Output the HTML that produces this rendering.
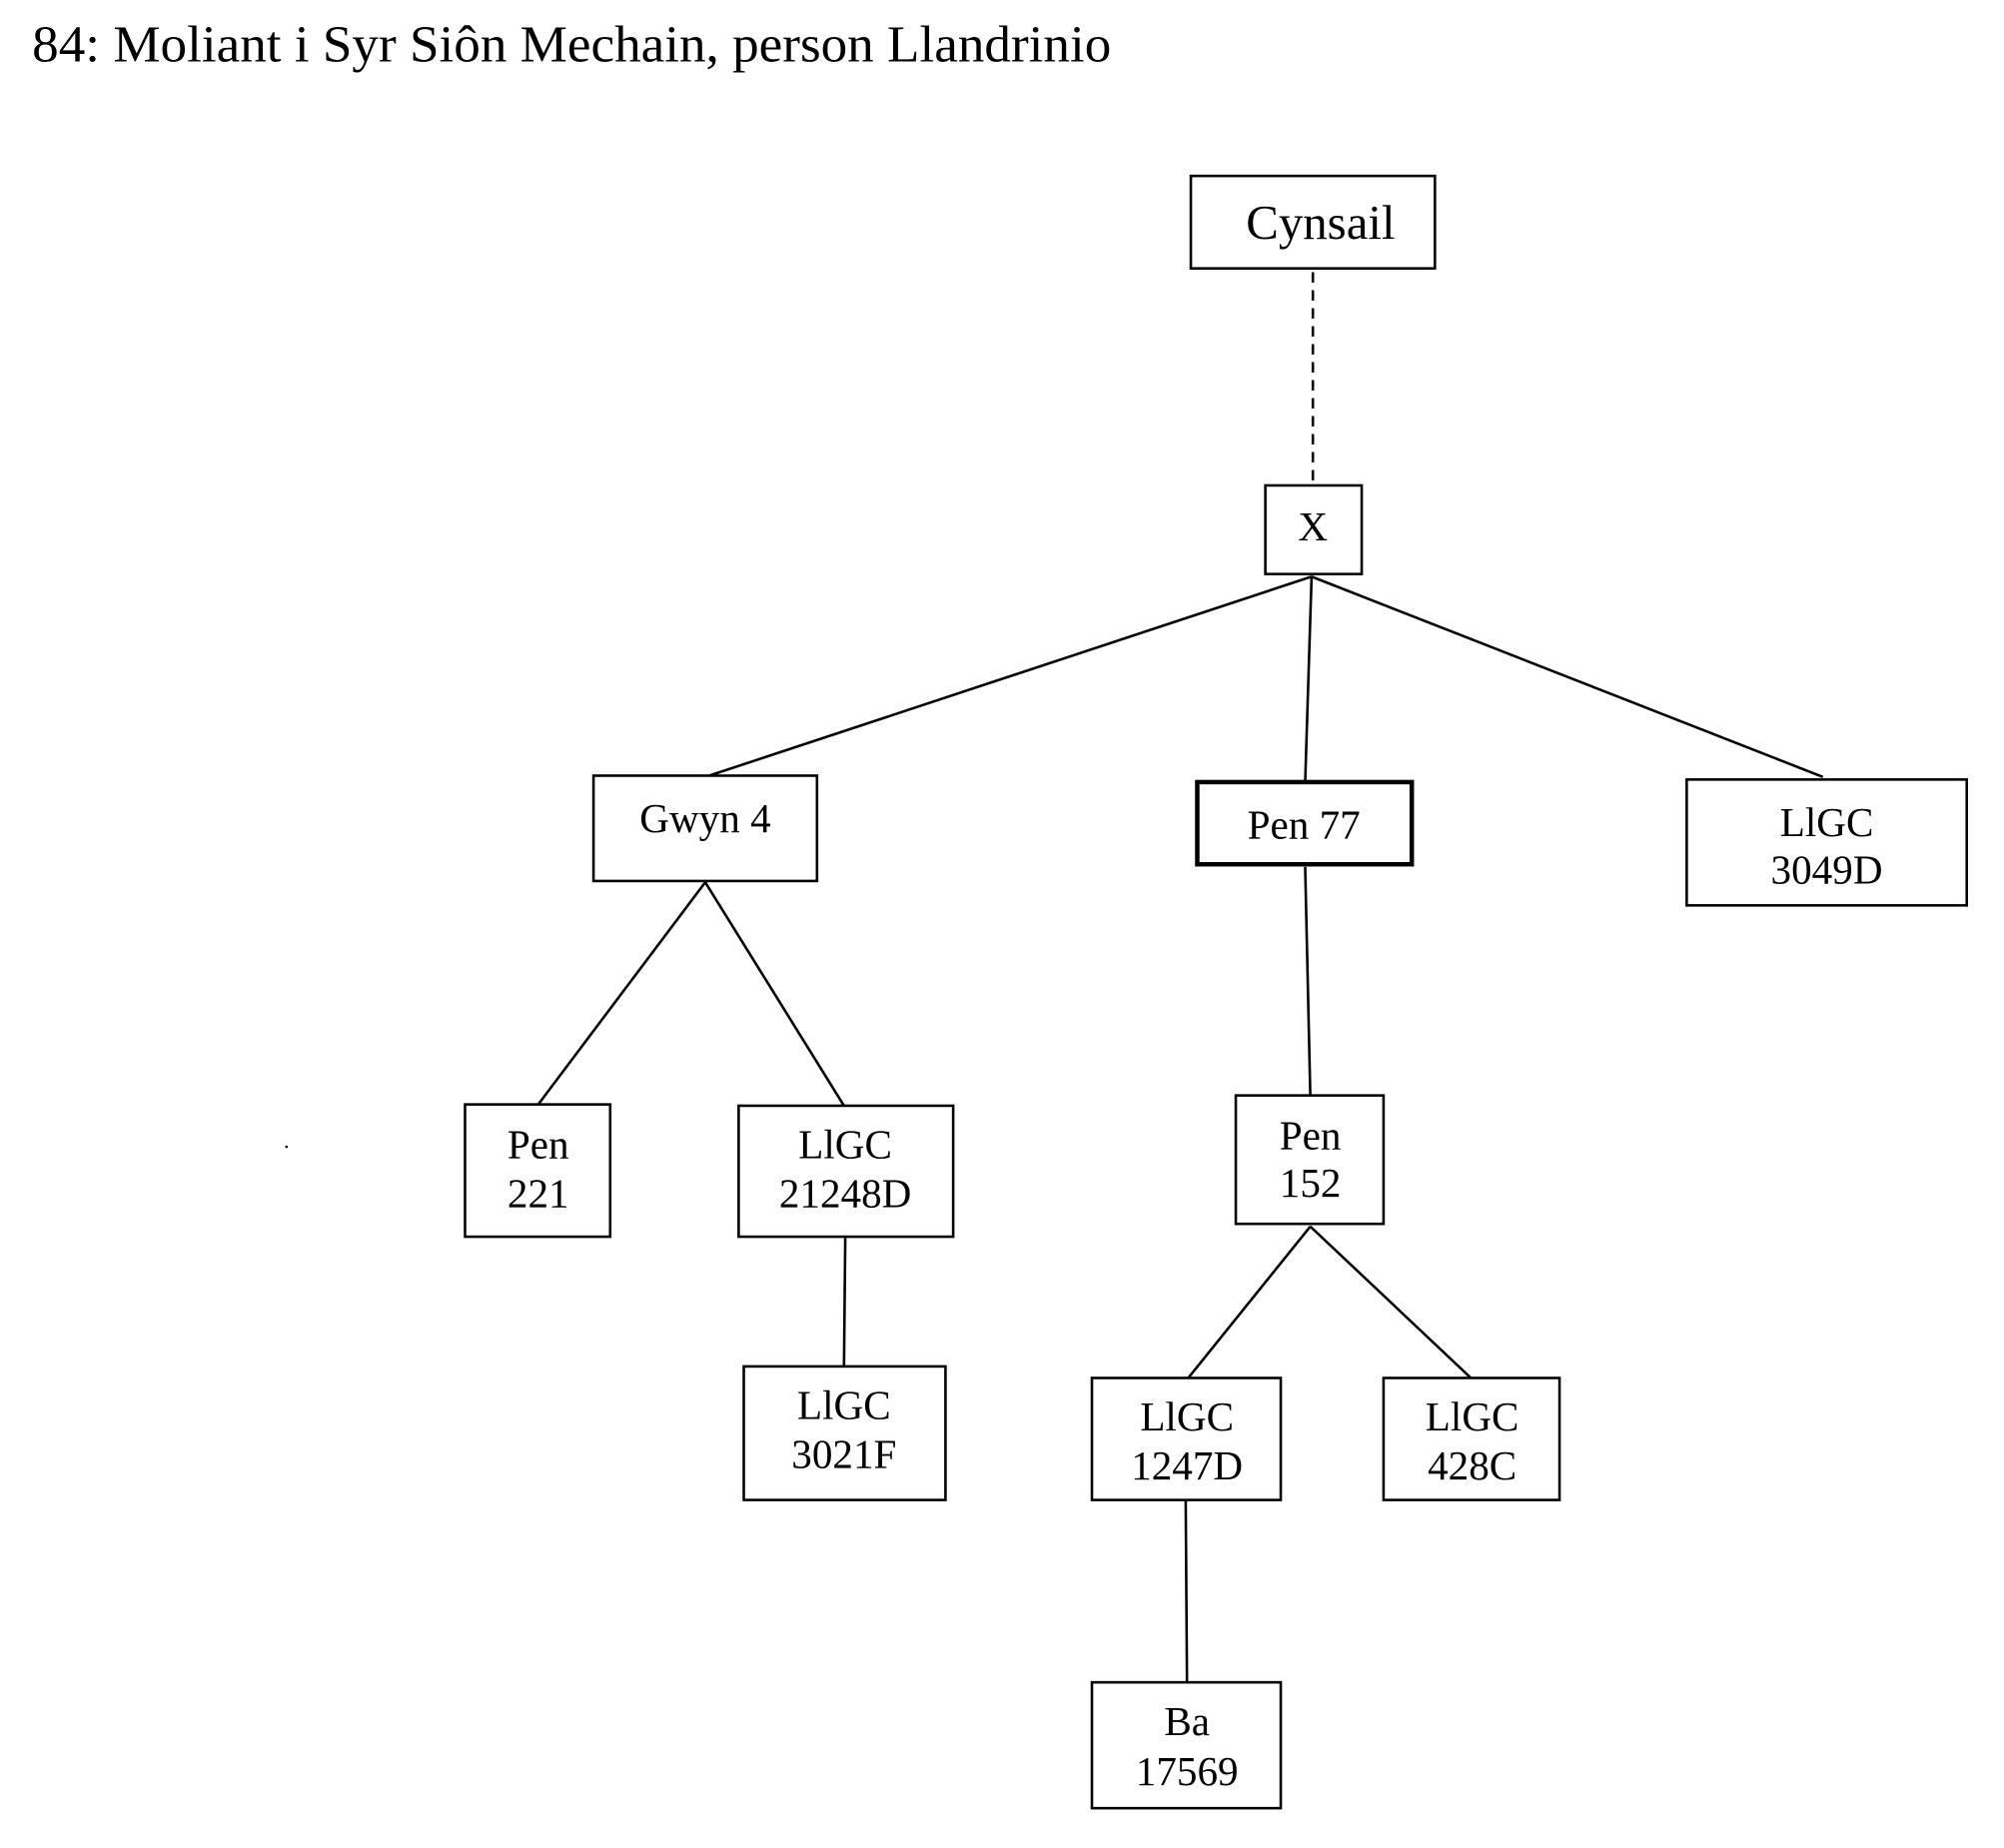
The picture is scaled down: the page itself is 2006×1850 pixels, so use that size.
<!DOCTYPE html>
<html><head><meta charset="utf-8"><style>html,body{margin:0;padding:0;background:#fff}svg{display:block}</style></head>
<body>
<svg width="2006" height="1850" viewBox="0 0 1560 1439" preserveAspectRatio="none" xmlns="http://www.w3.org/2000/svg">
<g font-family="Liberation Serif, serif" fill="#000">
<text x="25" y="48" font-size="40" textLength="840" lengthAdjust="spacingAndGlyphs">84: Moliant i Syr Siôn Mechain, person Llandrinio</text>
</g>
<g stroke="#000" stroke-width="2" fill="none">
<line x1="1022" y1="212" x2="1022" y2="378" stroke-dasharray="8,6"/>
<line x1="1021" y1="449" x2="552" y2="604"/>
<line x1="1021" y1="449" x2="1016" y2="609"/>
<line x1="1021" y1="449" x2="1419" y2="605"/>
<line x1="549" y1="687" x2="419" y2="860"/>
<line x1="549" y1="687" x2="657" y2="861"/>
<line x1="1016" y1="675" x2="1020" y2="853"/>
<line x1="658" y1="964" x2="657" y2="1064"/>
<line x1="1020" y1="955" x2="925" y2="1073"/>
<line x1="1020" y1="955" x2="1145" y2="1073"/>
<line x1="923" y1="1168" x2="924" y2="1310"/>
<rect x="927" y="137" width="190" height="72"/>
<rect x="985" y="378" width="75" height="69"/>
<rect x="462" y="604" width="174" height="82"/>
<rect x="932" y="609" width="167" height="64" stroke-width="3.5"/>
<rect x="1313" y="607" width="218" height="98"/>
<rect x="362" y="860" width="113" height="103"/>
<rect x="575" y="861" width="167" height="102"/>
<rect x="962" y="853" width="115" height="100"/>
<rect x="579" y="1064" width="157" height="104"/>
<rect x="850" y="1073" width="147" height="95"/>
<rect x="1077" y="1073" width="137" height="95"/>
<rect x="850" y="1310" width="147" height="98"/>
</g>
<circle cx="223" cy="893" r="1" fill="#000"/>
<g font-family="Liberation Serif, serif" font-size="32" fill="#000" text-anchor="middle">
<text x="1028" y="186" font-size="38">Cynsail</text>
<text x="1022" y="421">X</text>
<text x="549" y="648">Gwyn 4</text>
<text x="1015" y="653">Pen 77</text>
<text x="1422" y="651">LlGC</text><text x="1422" y="688">3049D</text>
<text x="419" y="902">Pen</text><text x="419" y="940">221</text>
<text x="658" y="902">LlGC</text><text x="658" y="940">21248D</text>
<text x="1020" y="895">Pen</text><text x="1020" y="932">152</text>
<text x="657" y="1105">LlGC</text><text x="657" y="1143">3021F</text>
<text x="924" y="1114">LlGC</text><text x="924" y="1152">1247D</text>
<text x="1146" y="1114">LlGC</text><text x="1146" y="1152">428C</text>
<text x="924" y="1351">Ba</text><text x="924" y="1390">17569</text>
</g>
</svg>
</body></html>
